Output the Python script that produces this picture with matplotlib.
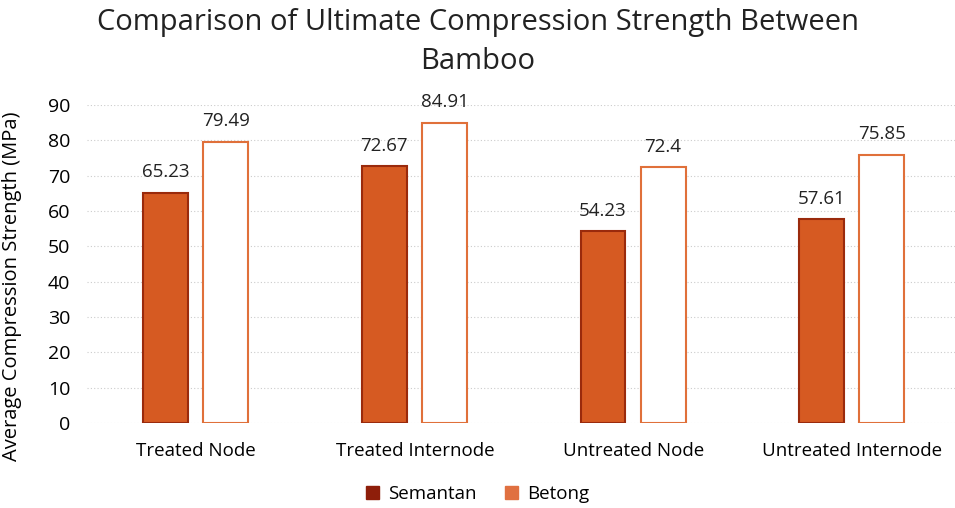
'''
Comparison of ultimate compression strength between bamboo species.
'''

import numpy as np
import matplotlib.pyplot as plt
from matplotlib.patches import Patch

# data
categories = ["Treated Node", "Treated Internode", "Untreated Node", "Untreated Internode"]
semantan = [65.23, 72.67, 54.23, 57.61]
betong = [79.49, 84.91, 72.4, 75.85]
semantan_labels = ["65.23", "72.67", "54.23", "57.61"]
betong_labels = ["79.49", "84.91", "72.4", "75.85"]
yticks = [0, 10, 20, 30, 40, 50, 60, 70, 80, 90]

plt.rcParams['font.family'] = ['Open Sans', 'DejaVu Sans']

fig = plt.figure(figsize=(9.55, 5.08), dpi=100)
ax = fig.add_axes([87 / 955, 85 / 508, 868 / 955, 318 / 508])

x = np.arange(len(categories))
w = 0.205
bars1 = ax.bar(x - 0.14, semantan, w, color='#D65A22', edgecolor='#9A2A0C', linewidth=1.5)
bars2 = ax.bar(x + 0.135, betong, w, color='white', edgecolor='#E0703A', linewidth=1.5)

for b, t in zip(bars1, semantan_labels):
    ax.text(b.get_x() + b.get_width() / 2, b.get_height() + 3.3, t,
            ha='center', va='bottom', fontsize=13.5, color='#222222')
for b, t in zip(bars2, betong_labels):
    ax.text(b.get_x() + b.get_width() / 2, b.get_height() + 3.3, t,
            ha='center', va='bottom', fontsize=13.5, color='#222222')

ax.set_xlim(-0.5, 3.47)
ax.set_ylim(0, 90)
ax.set_yticks(yticks)
ax.set_xticks(x)
ax.set_xticklabels(categories, fontsize=13.5)
ax.tick_params(axis='y', labelsize=14, length=0, pad=12)
ax.tick_params(axis='x', length=0, pad=14)
ax.yaxis.grid(True, linestyle=(0, (1, 2)), color='#cccccc', linewidth=0.8)
ax.set_axisbelow(True)
for s in ax.spines.values():
    s.set_visible(False)

ax.set_ylabel('Average Compression Strength (MPa)', fontsize=14.5, labelpad=8)
ax.yaxis.set_label_coords(-0.075, 0.43)

fig.text(0.5, 0.985, 'Comparison of Ultimate Compression Strength Between\nBamboo',
         ha='center', va='top', fontsize=21, linespacing=1.45, color='#222222')

handles = [Patch(facecolor='#8E1E0A', edgecolor='#8E1E0A'),
           Patch(facecolor='#E07040', edgecolor='#E07040')]
fig.legend(handles, ['Semantan', 'Betong'], loc='center', bbox_to_anchor=(0.5, 0.028),
           ncol=2, frameon=False, fontsize=13.5, handlelength=0.7, handleheight=0.7,
           columnspacing=1.5, handletextpad=0.5)

plt.savefig('out.png', dpi=100)
